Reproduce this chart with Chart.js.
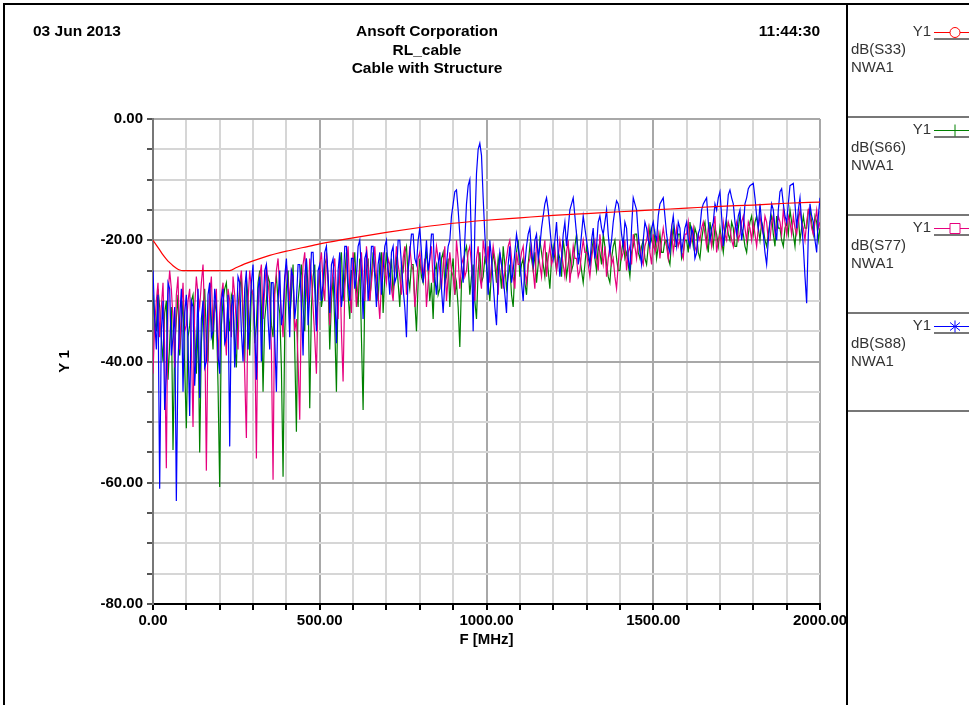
<!DOCTYPE html>
<html>
<head>
<meta charset="utf-8">
<script src="https://cdn.jsdelivr.net/npm/chart.js@4.4.1/dist/chart.umd.min.js"></script>
<style>
  html, body { margin: 0; padding: 0; background: #fff; }
  canvas { display: block; }
</style>
</head>
<body>
<canvas id="plot" width="969" height="705"></canvas>
<script>
// header text
const headerDate = '03 Jun 2013';
const headerTime = '11:44:30';
const titleLines = ['Ansoft Corporation', 'RL_cable', 'Cable with Structure'];

// legend entries (S33, S66, S77, S88)
const traceNames = ['dB(S33)', 'dB(S66)', 'dB(S77)', 'dB(S88)'];
const traceColors = ['#ff0000', '#008000', '#e6007e', '#0000ff'];
const traceMarkers = ['circle', 'plus', 'square', 'star'];

// dB(S33): smooth curve, own frequency points (MHz)
const s33Freq = [0, 10, 20, 30, 40, 50, 60, 70, 80, 90, 100, 230, 250, 275, 300, 350, 400, 450, 500,
  600, 700, 800, 900, 1000, 1100, 1200, 1300, 1400, 1500, 1600, 1700, 1800, 1900, 2000];
const s33 = [-20, -20.8, -21.6, -22.4, -23.1, -23.7, -24.2, -24.6, -24.9, -25, -25, -25, -24.5, -23.9, -23.4, -22.5, -21.8, -21.2, -20.6,
  -19.6, -18.7, -17.9, -17.2, -16.7, -16.3, -15.9, -15.6, -15.3, -15.0, -14.7, -14.4, -14.2, -13.9, -13.7];

// noisy traces sampled every 5 MHz from 0 to 2000 MHz (one row = 100 MHz)
const sweepStart = 0;
const sweepStep = 5;

const s66 = [
  -29, -33, -35, -28, -31, -36, -40, -32, -30, -43, -37, -31, -54.6, -38, -33, -29, -39, -34, -30, -41,
  -51, -36, -34, -30, -29, -35, -42, -33, -55, -37, -31, -28, -36, -40, -28, -33, -38, -30, -32, -44,
  -60.7, -34, -30, -28, -27, -32, -35, -29, -30, -37, -41, -31, -28, -26, -33, -40, -26, -30, -39, -28,
  -29, -37, -34, -27, -25, -31, -45, -33, -30, -26, -27, -34, -36, -28, -26, -30, -32, -41, -59, -35,
  -28, -25, -33, -29, -24, -38, -51.6, -30, -27, -24, -31, -35, -23, -28, -47.7, -31, -26, -24, -34, -29,
  -25, -31, -29, -24, -23, -27, -38, -30, -26, -34, -45, -28, -24, -22, -30, -26, -22, -29, -33, -25,
  -25, -22, -28, -31, -23, -36, -48, -29, -25, -23, -30, -26, -22, -25, -27, -30, -24, -22, -32, -26,
  -22, -25, -26, -23, -29, -25, -23, -27, -31, -24, -25, -22, -21, -26, -28, -24, -24, -30, -35, -27,
  -23, -26, -27, -24, -22, -25, -30, -27, -33, -25, -24, -29, -28, -23, -22, -27, -26, -23, -31, -25,
  -23, -29, -27, -31, -37.6, -27, -25, -22, -21, -24, -29, -26, -24, -30, -33, -25, -22, -27, -26, -23,
  -24, -27, -30, -25, -22, -24, -27, -23, -25, -28, -21, -24, -28, -26, -24, -29, -31, -25, -22, -20,
  -26, -24, -23, -27, -29, -24, -21, -23, -25, -22, -27, -24, -20, -22, -24, -26, -22, -25, -28, -23,
  -21, -23, -25, -22, -23, -26, -20, -22, -26, -24, -22, -25, -24, -21, -19, -22, -23, -25, -27, -24,
  -21, -23, -24, -22, -20, -23, -25, -21, -22, -24, -19, -21, -24, -26, -27, -23, -21, -20, -23, -25,
  -25, -22, -20, -23, -22, -24, -26, -22, -21, -19, -19, -22, -23, -21, -20, -23, -24, -21, -18, -20,
  -21, -19, -23, -21, -19, -22, -22, -20, -20, -23, -24, -20, -18, -21, -21, -19, -19, -23, -22, -20,
  -20, -22, -17, -19, -21, -18, -19, -22, -23, -20, -18, -17, -20, -22, -17, -19, -21, -18, -19, -21,
  -18, -20, -22, -19, -17, -19, -20, -17, -18, -21, -21, -18, -16, -18, -19, -21, -22, -19, -17, -16,
  -19, -17, -16, -18, -20, -17, -18, -20, -21, -19, -17, -16, -19, -21, -16, -18, -18, -20, -21, -18,
  -17, -19, -15, -17, -19, -21, -17, -16, -20, -18, -16, -18, -18, -15, -15, -17, -19, -16, -17, -20,
  -18
];

const s77 = [
  -42, -34, -30, -27, -36, -31, -27, -38, -57.6, -29, -25, -28, -33, -41, -29, -26, -38, -32, -27, -35,
  -34, -30, -28, -37, -50.8, -31, -26, -29, -31, -27, -24, -33, -58, -35, -29, -26, -35, -31, -28, -40,
  -32, -29, -27, -34, -39, -28, -30, -36, -26, -29, -34, -38, -27, -25, -31, -42, -52.6, -30, -25, -28,
  -29, -35, -56, -31, -26, -24, -33, -28, -24, -27, -30, -38, -59.5, -29, -25, -23, -28, -32, -36, -27,
  -24, -27, -30, -25, -26, -35, -33, -40, -49.6, -30, -24, -22, -28, -31, -23, -26, -31, -36, -42, -29,
  -24, -22, -27, -30, -22, -26, -34, -28, -25, -23, -29, -33, -23, -35, -43.3, -28, -24, -21, -28, -32,
  -22, -26, -31, -27, -25, -22, -27, -30, -21, -24, -30, -27, -24, -21, -26, -29, -33, -27, -22, -25,
  -27, -23, -24, -28, -30, -25, -21, -24, -26, -29, -23, -21, -29, -25, -21, -24, -25, -31, -28, -23,
  -22, -25, -26, -23, -31, -27, -23, -21, -27, -24, -21, -23, -25, -28, -24, -21, -30, -26, -22, -25,
  -26, -29, -20, -23, -28, -24, -23, -26, -25, -22, -21, -24, -27, -30, -23, -21, -26, -28, -20, -22,
  -24, -21, -27, -24, -21, -23, -25, -29, -22, -24, -28, -25, -23, -21, -20, -23, -26, -28, -22, -24,
  -24, -22, -21, -25, -27, -24, -23, -21, -25, -28, -20, -22, -24, -26, -22, -20, -26, -23, -21, -24,
  -23, -21, -25, -23, -20, -22, -24, -26, -22, -20, -27, -24, -21, -23, -23, -26, -25, -22, -20, -22,
  -22, -24, -26, -23, -21, -20, -23, -25, -19, -22, -24, -21, -26, -23, -21, -24, -23, -26, -28, -24,
  -20, -23, -22, -20, -25, -22, -21, -24, -19, -21, -23, -20, -21, -23, -24, -21, -20, -18, -22, -24,
  -19, -22, -21, -19, -23, -20, -18, -20, -21, -23, -20, -18, -22, -20, -18, -21, -20, -22, -23, -19,
  -19, -17, -21, -20, -18, -21, -22, -19, -20, -18, -17, -19, -21, -18, -19, -21, -18, -16, -22, -20,
  -19, -21, -17, -19, -20, -17, -18, -20, -21, -18, -17, -20, -19, -17, -16, -18, -20, -17, -18, -20,
  -17, -19, -21, -18, -16, -18, -19, -16, -17, -20, -20, -17, -16, -19, -18, -16, -17, -19, -15, -17,
  -19, -16, -17, -19, -16, -18, -19, -17, -15, -17, -18, -20, -17, -15, -16, -18, -19, -17, -15, -18,
  -17
];

const s88 = [
  -25, -33, -38, -29, -61, -35, -30, -48, -42, -27, -28, -39, -36, -31, -63, -40, -33, -28, -45, -32,
  -29, -37, -49, -30, -31, -44, -38, -28, -46, -33, -30, -41, -40, -29, -27, -36, -35, -28, -31, -39,
  -42, -30, -28, -37, -36, -29, -54, -31, -29, -41, -34, -26, -27, -35, -40, -28, -25, -38, -33, -27,
  -24, -35, -43, -28, -26, -40, -31, -25, -24, -33, -38, -27, -27, -36, -45, -30, -25, -34, -32, -26,
  -23, -29, -36, -25, -26, -33, -30, -24, -24, -31, -39, -26, -23, -34, -29, -22, -22, -28, -35, -25,
  -24, -30, -27, -22, -21, -26, -32, -24, -23, -29, -37, -25, -22, -31, -28, -21, -21, -27, -30, -23,
  -23, -28, -26, -21, -20, -25, -33, -23, -22, -30, -27, -21, -21, -26, -31, -24, -22, -29, -25, -21,
  -20, -25, -29, -22, -21, -27, -26, -20, -20, -24, -28, -31, -36, -25, -22, -19, -19, -23, -24, -20,
  -18, -22, -27, -24, -20, -25, -23, -19, -19, -26, -29, -24, -22, -28, -32, -27, -24, -21, -20, -16,
  -14, -12, -11.7, -15, -19, -24, -27, -20, -14, -11, -10, -21, -35, -18, -9, -5, -4, -6, -13, -19,
  -24, -29, -20, -23, -27, -31, -34, -26, -22, -24, -26, -29, -32, -24, -21, -27, -25, -22, -19, -21,
  -23, -27, -30, -24, -21, -19, -18, -22, -24, -20, -19, -23, -21, -18, -16, -14, -13, -15, -18, -21,
  -23, -20, -17, -22, -26, -23, -19, -17, -21, -18, -15, -14, -13, -16, -19, -24, -22, -19, -16, -18,
  -20, -22, -24, -20, -18, -23, -21, -17, -16, -18, -19, -17, -15, -19, -22, -20, -17, -15, -13.5, -14,
  -16, -19, -21, -17, -18, -23, -25, -18, -13, -14, -15, -19, -22, -24, -20, -17, -18, -20, -21, -18,
  -17, -19, -20, -16, -14, -13.5, -13, -16, -19, -21, -22, -18, -16, -19, -21, -17, -18, -22, -20, -18,
  -17, -20, -21, -18, -19, -23, -22, -19, -18, -15, -14, -13.5, -13, -17, -20, -18, -17, -14, -15, -13,
  -12, -16, -21, -18, -16, -12.5, -11.7, -13, -14, -17, -19, -16, -15, -20, -18, -14, -13, -11.5, -11, -10.8,
  -10.6, -13, -16, -18, -14, -17, -19, -22, -24, -20, -17, -14, -15, -18, -20, -15, -12, -11.5, -14, -16,
  -17, -14, -11, -10.8, -10.6, -14, -18, -15, -13, -17, -21, -26, -30.4, -19, -14, -16, -17, -20, -22, -16,
  -13
];

// axis settings
const xMin = 0, xMax = 2000, xStep = 100, xLabelEvery = 500;
const yMin = -80, yMax = 0, yStep = 5, yLabelEvery = 20;

const toPoints = (vals) => vals.map((v, i) => ({ x: sweepStart + i * sweepStep, y: v }));

const FONT = '"Liberation Sans", Arial, sans-serif';

// frame, header and legend panel
const frame = {
  id: 'frame',
  afterDraw(chart) {
    const ctx = chart.ctx;
    ctx.save();

    // outer border and legend separator
    ctx.strokeStyle = '#000';
    ctx.lineWidth = 2;
    ctx.beginPath();
    ctx.moveTo(4, 705); ctx.lineTo(4, 4); ctx.lineTo(969, 4);
    ctx.moveTo(847, 4); ctx.lineTo(847, 705);
    ctx.stroke();

    // header
    ctx.fillStyle = '#000';
    ctx.font = 'bold 15.5px ' + FONT;
    ctx.textBaseline = 'middle';
    ctx.textAlign = 'left';
    ctx.fillText(headerDate, 33, 32);
    ctx.textAlign = 'right';
    ctx.fillText(headerTime, 820, 32);
    ctx.textAlign = 'center';
    titleLines.forEach((t, i) => ctx.fillText(t, 427, 32 + i * 18.5));

    // legend cells
    traceNames.forEach((name, i) => {
      const y0 = 32 + i * 98;
      ctx.strokeStyle = '#777';
      ctx.lineWidth = 2;
      ctx.beginPath();
      ctx.moveTo(848, y0 + 85); ctx.lineTo(969, y0 + 85);
      ctx.moveTo(934, y0 + 7); ctx.lineTo(969, y0 + 7);
      ctx.stroke();

      ctx.fillStyle = '#333';
      ctx.font = '15px ' + FONT;
      ctx.textAlign = 'right';
      ctx.fillText('Y1', 931, y0);
      ctx.textAlign = 'left';
      ctx.fillText(name, 851, y0 + 18);
      ctx.fillText('NWA1', 851, y0 + 36);

      const col = traceColors[i];
      ctx.strokeStyle = col;
      ctx.lineWidth = 1;
      ctx.beginPath();
      ctx.moveTo(934, y0 + 0.5); ctx.lineTo(969, y0 + 0.5);
      ctx.stroke();

      const mx = 955, my = y0 + 0.5;
      ctx.beginPath();
      if (traceMarkers[i] === 'circle') {
        ctx.fillStyle = '#fff';
        ctx.arc(mx, my, 5, 0, Math.PI * 2);
        ctx.fill();
      } else if (traceMarkers[i] === 'square') {
        ctx.fillStyle = '#fff';
        ctx.rect(mx - 5, my - 5, 10, 10);
        ctx.fill();
      } else if (traceMarkers[i] === 'plus') {
        ctx.moveTo(mx, my - 6); ctx.lineTo(mx, my + 6);
      } else {
        ctx.moveTo(mx, my - 6); ctx.lineTo(mx, my + 6);
        ctx.moveTo(mx - 5, my - 4); ctx.lineTo(mx + 5, my + 4);
        ctx.moveTo(mx - 5, my + 4); ctx.lineTo(mx + 5, my - 4);
      }
      ctx.stroke();
    });

    ctx.restore();
  }
};

new Chart(document.getElementById('plot'), {
  type: 'line',
  data: {
    datasets: [
      { label: traceNames[0], data: s33Freq.map((f, i) => ({ x: f, y: s33[i] })), borderColor: traceColors[0], cubicInterpolationMode: 'monotone', order: 0 },
      { label: traceNames[1], data: toPoints(s66), borderColor: traceColors[1], order: 3 },
      { label: traceNames[2], data: toPoints(s77), borderColor: traceColors[2], order: 2 },
      { label: traceNames[3], data: toPoints(s88), borderColor: traceColors[3], order: 1 }
    ]
  },
  options: {
    responsive: false,
    animation: false,
    layout: { padding: { top: 119, right: 149, left: 0, bottom: 0 } },
    elements: {
      point: { radius: 0 },
      line: { borderWidth: 1.2, tension: 0, fill: false }
    },
    plugins: {
      legend: { display: false },
      tooltip: { enabled: false }
    },
    scales: {
      x: {
        type: 'linear',
        min: xMin, max: xMax,
        afterFit(scale) { scale.height = 101; },
        ticks: {
          stepSize: xStep, autoSkip: false, maxRotation: 0, padding: 2,
          color: '#000', font: { family: FONT, size: 15, weight: 'bold' },
          callback: (v) => (v % xLabelEvery === 0 ? v.toFixed(2) : '')
        },
        grid: {
          color: (c) => (c.tick && c.tick.value % xLabelEvery === 0 ? '#a8a8a8' : '#d6d6d6'),
          lineWidth: 2,
          tickColor: '#000',
          tickLength: 6
        },
        border: { color: '#000', width: 2 },
        title: { display: true, text: 'F [MHz]', color: '#000', font: { family: FONT, size: 15, weight: 'bold' }, padding: { bottom: 56 } }
      },
      y: {
        min: yMin, max: yMax,
        afterFit(scale) { scale.width = 153; },
        ticks: {
          stepSize: yStep, autoSkip: false, padding: 4,
          color: '#000', font: { family: FONT, size: 15, weight: 'bold' },
          callback: (v) => (v % yLabelEvery === 0 ? v.toFixed(2) : '')
        },
        grid: {
          color: (c) => (c.tick && c.tick.value % yLabelEvery === 0 ? '#a8a8a8' : '#d6d6d6'),
          lineWidth: 2,
          tickColor: '#555',
          tickLength: 6
        },
        border: { color: '#777', width: 2 },
        title: { display: true, text: 'Y 1', color: '#000', font: { family: FONT, size: 15, weight: 'bold' }, padding: { top: 56 } }
      }
    }
  },
  plugins: [frame]
});
</script>
</body>
</html>
